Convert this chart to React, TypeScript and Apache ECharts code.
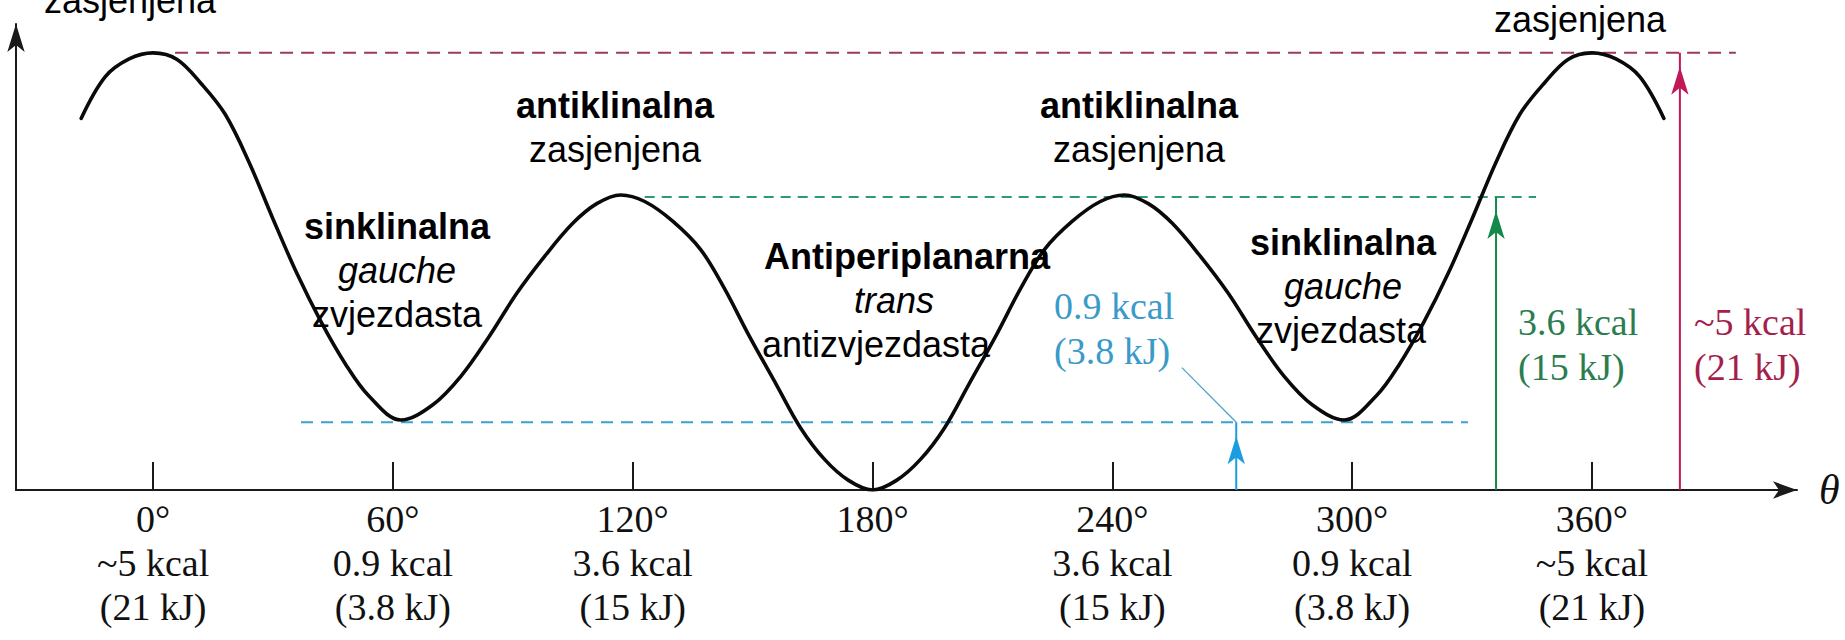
import React, { useEffect, useRef } from 'react';
import * as echarts from 'echarts';

// Torsion angle (degrees) and relative energy as drawn (peak at 0° = 100)
const angles = [
  -18, -12, -6, 0, 6, 12, 18, 24, 30, 36, 42, 48, 54, 62, 70, 77, 84, 91, 98, 105, 111, 117, 123, 130, 137, 143, 149, 156, 162, 168, 174, 180,
  186, 192, 198, 204, 211, 217, 223, 230, 237, 243, 249, 255, 262, 269, 276, 283, 290, 298, 306, 312, 318, 324, 330, 336, 342, 348, 354, 360, 366, 372, 378,
];
const energies = [
  85, 94.5, 98.6, 100, 98.5, 93, 86, 75, 62, 49.5, 38.5, 29, 21.5, 16, 19.5, 26, 35, 45, 53.5, 61, 65.5, 67.5, 66, 61.5, 55, 46, 35.5, 24, 14.2, 7, 2.2, 0,
  2.2, 7, 14.2, 24, 35.5, 46, 55, 61.5, 66, 67.5, 65.5, 61, 53.5, 45, 35, 26, 19.5, 16, 21.5, 29, 38.5, 49.5, 62, 75, 86, 93, 98.5, 100, 98.6, 94.5, 85,
];

// x-axis ticks and their labels
const tickAngles = [0, 60, 120, 180, 240, 300, 360];
const tickDeg = ['0°', '60°', '120°', '180°', '240°', '300°', '360°'];
const tickKcal = ['~5 kcal', '0.9 kcal', '3.6 kcal', '', '3.6 kcal', '0.9 kcal', '~5 kcal'];
const tickKj = ['(21 kJ)', '(3.8 kJ)', '(15 kJ)', '', '(15 kJ)', '(3.8 kJ)', '(21 kJ)'];

// energy barriers: red (~5 kcal), green (3.6 kcal), blue (0.9 kcal)
const barrierLevels = [100, 67, 15.5];
const barrierArrowAngles = [382, 336, 271];
const barrierDashStart = [5.5, 123, 37];
const barrierDashEnd = [396, 346, 329];
const barrierKcal = ['~5 kcal', '3.6 kcal', '0.9 kcal'];
const barrierKj = ['(21 kJ)', '(15 kJ)', '(3.8 kJ)'];

// leader line from the blue label to the blue arrow tip
const leaderFrom = [257.4, 28];
const leaderTo = [271, 15.5];

// styles
const arrowColors = ['#c0185a', '#13894a', '#1b9ee0'];
const dashColors = ['#9b3a5e', '#2e9a6e', '#3aa3cf'];
const dashPatterns = [[13, 8], [10, 7], [12, 8]];
const textColors = ['#a51f4d', '#2b7d4f', '#3a9ac8'];
const barrierTextPos = [[1694, 322, 367], [1518, 322, 367], [1054, 306, 351]];

const SANS = 'Liberation Sans, Arial, sans-serif';
const SERIF = 'Liberation Serif, Times New Roman, serif';

type Lbl = { t: string; x: number; y: number; w?: string; s?: string };
const conformLabels: Lbl[] = [
  { t: 'zasjenjena', x: 130, y: 0.5 },
  { t: 'zasjenjena', x: 1580, y: 19 },
  { t: 'antiklinalna', x: 615, y: 105.5, w: 'bold' },
  { t: 'zasjenjena', x: 615, y: 149.5 },
  { t: 'antiklinalna', x: 1139, y: 105.5, w: 'bold' },
  { t: 'zasjenjena', x: 1139, y: 149.5 },
  { t: 'sinklinalna', x: 397, y: 226.5, w: 'bold' },
  { t: 'gauche', x: 397, y: 270.5, s: 'italic' },
  { t: 'zvjezdasta', x: 397, y: 314.5 },
  { t: 'sinklinalna', x: 1343, y: 242, w: 'bold' },
  { t: 'gauche', x: 1343, y: 286, s: 'italic' },
  { t: 'zvjezdasta', x: 1341, y: 330 },
  { t: 'Antiperiplanarna', x: 907, y: 256.5, w: 'bold' },
  { t: 'trans', x: 894, y: 300.5, s: 'italic' },
  { t: 'antizvjezdasta', x: 876, y: 344.5 },
];

export default function App() {
  const ref = useRef<HTMLDivElement>(null);
  useEffect(() => {
    if (!ref.current) return;
    const chart = echarts.init(ref.current, null, { renderer: 'svg' });

    const graphics: any[] = [];
    conformLabels.forEach((l) => {
      graphics.push({
        type: 'text', x: l.x, y: l.y, z: 20,
        style: {
          text: l.t, fill: '#000',
          fontFamily: SANS, fontSize: 36, fontWeight: l.w || 'normal', fontStyle: l.s || 'normal',
          textAlign: 'center', textVerticalAlign: 'middle', verticalAlign: 'middle',
        },
      });
    });
    barrierKcal.forEach((k, i) => {
      const p = barrierTextPos[i];
      [k, barrierKj[i]].forEach((t, j) => {
        graphics.push({
          type: 'text', x: p[0], y: p[1 + j], z: 20,
          style: {
            text: t, fill: textColors[i], fontFamily: SERIF, fontSize: 38,
            textAlign: 'left', textVerticalAlign: 'middle', verticalAlign: 'middle',
          },
        });
      });
    });

    const series: any[] = [];
    barrierLevels.forEach((lvl, i) => {
      series.push({
        type: 'line', silent: true, symbol: 'none', z: 2,
        data: [[barrierDashStart[i], lvl], [barrierDashEnd[i], lvl]],
        lineStyle: { color: dashColors[i], width: 2, type: dashPatterns[i] },
      });
      series.push({
        type: 'line', silent: true, symbol: 'arrow', z: 3, clip: false,
        data: [
          { value: [barrierArrowAngles[i], 0], symbol: 'none' },
          { value: [barrierArrowAngles[i], lvl], symbol: 'arrow', symbolSize: [13, 28], symbolOffset: [0, 14] },
        ],
        itemStyle: { color: arrowColors[i] },
        lineStyle: { color: arrowColors[i], width: 2 },
      });
    });
    series.push({
      type: 'line', silent: true, symbol: 'none', z: 3,
      data: [leaderFrom, leaderTo],
      lineStyle: { color: '#4aa0c8', width: 1.2 },
    });
    series.push({
      type: 'line', silent: true, symbol: 'none', z: 5, smooth: 0.35,
      data: angles.map((a, i) => [a, energies[i]]),
      lineStyle: { color: '#0a0a0a', width: 3.6, cap: 'round' },
    });

    chart.setOption({
      animation: false,
      backgroundColor: '#ffffff',
      grid: { left: 16, right: 48, top: 24, bottom: 150, containLabel: false, outerBoundsMode: 'none' },
      xAxis: {
        type: 'value', min: -34.3, max: 411.3,
        name: 'θ', nameLocation: 'end', nameGap: 22,
        nameTextStyle: { fontFamily: SERIF, fontStyle: 'italic', fontSize: 42, color: '#111' },
        axisLine: { show: true, onZero: false, symbol: ['none', 'arrow'], symbolSize: [13, 24], lineStyle: { color: '#1a1a1a', width: 2 } },
        axisTick: { show: true, inside: true, length: 28, customValues: tickAngles, lineStyle: { color: '#1a1a1a', width: 2 } },
        axisLabel: {
          show: true, customValues: tickAngles, margin: 7,
          fontFamily: SERIF, fontSize: 38, lineHeight: 44, color: '#111',
          formatter: (v: number) => {
            const i = tickAngles.indexOf(Math.round(v));
            if (i < 0) return '';
            return [tickDeg[i], tickKcal[i], tickKj[i]].filter((s) => s).join('\n');
          },
        },
        splitLine: { show: false },
      },
      yAxis: {
        type: 'value', min: 0, max: 106.6,
        axisLine: { show: true, onZero: false, symbol: ['none', 'arrow'], symbolSize: [13, 28], lineStyle: { color: '#1a1a1a', width: 2 } },
        axisTick: { show: false },
        axisLabel: { show: false },
        splitLine: { show: false },
      },
      series,
      graphic: graphics,
    });
    return () => chart.dispose();
  }, []);
  return <div ref={ref} style={{ position: 'fixed', left: 0, top: 0, width: 1845, height: 640 }} />;
}
